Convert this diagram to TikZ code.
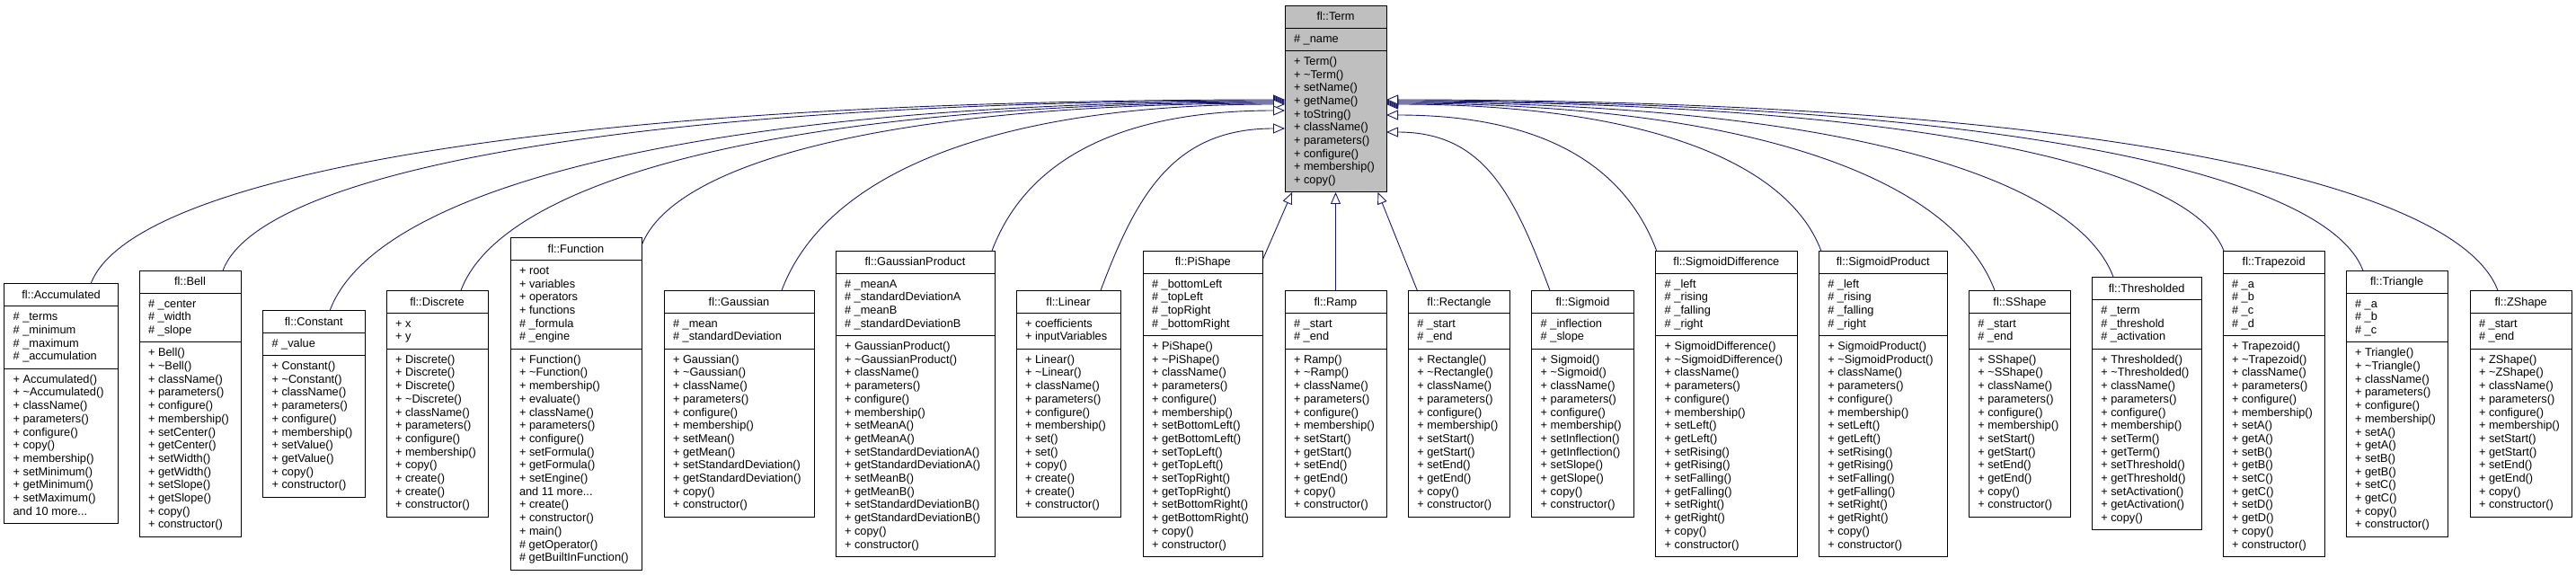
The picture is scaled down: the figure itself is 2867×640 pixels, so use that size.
\documentclass[tikz,border=0pt]{standalone}
\usepackage{fontspec}
\newfontfamily\dfont{Liberation Sans}
\usetikzlibrary{arrows.meta,calc}
\definecolor{edgeblue}{HTML}{191970}
\newcommand\tildech{\textasciitilde}
\newcommand\moredots{.{}.{}.}
\newcommand\umlclass[8]{%
  \foreach \memb [count=\idx] in {#7} {\xdef\nA{\idx}}%
  \foreach \memb [count=\idx] in {#8} {\xdef\nM{\idx}}%
  \pgfmathsetmacro\hAttr{14.7*\nA+10.6}%
  \pgfmathsetmacro\hMeth{14.7*\nM+10.6}%
  \pgfmathsetmacro\hBox{25+\hAttr+\hMeth}%
  \pgfmathsetmacro\yTop{#5-\hBox/2}%
  \pgfmathsetmacro\yAttr{\yTop+25}%
  \pgfmathsetmacro\yMeth{\yAttr+\hAttr}%
  \pgfmathsetmacro\wBox{#4-#3}%
  \node[classbox,#1,minimum width=\wBox pt,minimum height=\hBox pt,anchor=north west] (#2) at (#3,\yTop) {};
  \draw[classline] (#3,\yAttr) -- (#4,\yAttr) (#3,\yMeth) -- (#4,\yMeth);
  \node[ctitle] (#2-title) at ({(#3+#4)/2},\yTop+16.8) {#6};
  \foreach \memb [count=\idx] in {#7} {\node[member] (#2-a\idx) at (#3+10,\yAttr+16+14.7*\idx-14.7) {\memb};}%
  \foreach \memb [count=\idx] in {#8} {\node[member] (#2-m\idx) at (#3+10,\yMeth+16+14.7*\idx-14.7) {\memb};}%
}
\newcommand\inh[2]{%
  \draw[edge] let \p1=#1, \p2=#2,
    \n1={0.5*abs(\y2-\y1)},
    \n2={ifthenelse(\x2>\x1,1,-1)} in
    (\p1) .. controls (\x1+\n2*0.45*\n1, \y1+1.2*\n1) and (\x1+0.4*\x2-0.4*\x1, \y2) .. (\p2);}
\begin{document}
\begin{tikzpicture}[x=1pt,y=-1pt,
  classbox/.style={draw=black,line width=1pt,fill=white,inner sep=0pt,outer sep=0pt},
  classline/.style={draw=black,line width=1pt},
  member/.style={anchor=base west,inner sep=0pt,outer sep=0pt,font=\dfont\fontsize{12.8}{14.7}\selectfont},
  ctitle/.style={member,anchor=base},
  edge/.style={draw=edgeblue,line width=0.9pt,-{Triangle[length=13pt,width=11pt,fill=white]}}]
\fill[white] (0,0) rectangle (2867,640);
\useasboundingbox (0,0) rectangle (2867,640);

\umlclass{fill=black!25}{term}{1430}{1543}{110}{fl::Term}{\# \_name}{+ Term(), + \tildech Term(), + setName(), + getName(), + toString(), + className(), + parameters(), + configure(), + membership(), + copy()}

\umlclass{}{acc}{4.6}{131.5}{449.2}{fl::Accumulated}{\# \_terms, \# \_minimum, \# \_maximum, \# \_accumulation}{+ Accumulated(), + \tildech Accumulated(), + className(), + parameters(), + configure(), + copy(), + membership(), + setMinimum(), + getMinimum(), + setMaximum(), {and 10 more\moredots}}
\umlclass{}{bell}{155}{268}{449.2}{fl::Bell}{\# \_center, \# \_width, \# \_slope}{+ Bell(), + \tildech Bell(), + className(), + parameters(), + configure(), + membership(), + setCenter(), + getCenter(), + setWidth(), + getWidth(), + setSlope(), + getSlope(), + copy(), + constructor()}
\umlclass{}{const}{292.5}{406}{449.2}{fl::Constant}{\# \_value}{+ Constant(), + \tildech Constant(), + className(), + parameters(), + configure(), + membership(), + setValue(), + getValue(), + copy(), + constructor()}
\umlclass{}{discrete}{430}{543}{449.2}{fl::Discrete}{+ x, + y}{+ Discrete(), + Discrete(), + Discrete(), + \tildech Discrete(), + className(), + parameters(), + configure(), + membership(), + copy(), + create(), + create(), + constructor()}
\umlclass{}{function}{568}{714}{449.2}{fl::Function}{+ root, + variables, + operators, + functions, \# \_formula, \# \_engine}{+ Function(), + \tildech Function(), + membership(), + evaluate(), + className(), + parameters(), + configure(), + setFormula(), + getFormula(), + setEngine(), {and 11 more\moredots}, + create(), + constructor(), + main(), \# getOperator(), \# getBuiltInFunction()}
\umlclass{}{gaussian}{739}{906}{449.2}{fl::Gaussian}{\# \_mean, \# \_standardDeviation}{+ Gaussian(), + \tildech Gaussian(), + className(), + parameters(), + configure(), + membership(), + setMean(), + getMean(), + setStandardDeviation(), + getStandardDeviation(), + copy(), + constructor()}
\umlclass{}{gp}{930}{1107}{449.2}{fl::GaussianProduct}{\# \_meanA, \# \_standardDeviationA, \# \_meanB, \# \_standardDeviationB}{+ GaussianProduct(), + \tildech GaussianProduct(), + className(), + parameters(), + configure(), + membership(), + setMeanA(), + getMeanA(), + setStandardDeviationA(), + getStandardDeviationA(), + setMeanB(), + getMeanB(), + setStandardDeviationB(), + getStandardDeviationB(), + copy(), + constructor()}
\umlclass{}{linear}{1131}{1247}{449.2}{fl::Linear}{+ coefficients, + inputVariables}{+ Linear(), + \tildech Linear(), + className(), + parameters(), + configure(), + membership(), + set(), + set(), + copy(), + create(), + create(), + constructor()}
\umlclass{}{pishape}{1272}{1405.7}{449.2}{fl::PiShape}{\# \_bottomLeft, \# \_topLeft, \# \_topRight, \# \_bottomRight}{+ PiShape(), + \tildech PiShape(), + className(), + parameters(), + configure(), + membership(), + setBottomLeft(), + getBottomLeft(), + setTopLeft(), + getTopLeft(), + setTopRight(), + getTopRight(), + setBottomRight(), + getBottomRight(), + copy(), + constructor()}
\umlclass{}{ramp}{1430}{1543}{449.2}{fl::Ramp}{\# \_start, \# \_end}{+ Ramp(), + \tildech Ramp(), + className(), + parameters(), + configure(), + membership(), + setStart(), + getStart(), + setEnd(), + getEnd(), + copy(), + constructor()}
\umlclass{}{rect}{1567.3}{1680.7}{449.2}{fl::Rectangle}{\# \_start, \# \_end}{+ Rectangle(), + \tildech Rectangle(), + className(), + parameters(), + configure(), + membership(), + setStart(), + getStart(), + setEnd(), + getEnd(), + copy(), + constructor()}
\umlclass{}{sigmoid}{1704.7}{1818.3}{449.2}{fl::Sigmoid}{\# \_inflection, \# \_slope}{+ Sigmoid(), + \tildech Sigmoid(), + className(), + parameters(), + configure(), + membership(), + setInflection(), + getInflection(), + setSlope(), + getSlope(), + copy(), + constructor()}
\umlclass{}{sigdiff}{1842.7}{2000}{449.2}{fl::SigmoidDifference}{\# \_left, \# \_rising, \# \_falling, \# \_right}{+ SigmoidDifference(), + \tildech SigmoidDifference(), + className(), + parameters(), + configure(), + membership(), + setLeft(), + getLeft(), + setRising(), + getRising(), + setFalling(), + getFalling(), + setRight(), + getRight(), + copy(), + constructor()}
\umlclass{}{sigprod}{2024.3}{2167.3}{449.2}{fl::SigmoidProduct}{\# \_left, \# \_rising, \# \_falling, \# \_right}{+ SigmoidProduct(), + \tildech SigmoidProduct(), + className(), + parameters(), + configure(), + membership(), + setLeft(), + getLeft(), + setRising(), + getRising(), + setFalling(), + getFalling(), + setRight(), + getRight(), + copy(), + constructor()}
\umlclass{}{sshape}{2191.3}{2304.7}{449.2}{fl::SShape}{\# \_start, \# \_end}{+ SShape(), + \tildech SShape(), + className(), + parameters(), + configure(), + membership(), + setStart(), + getStart(), + setEnd(), + getEnd(), + copy(), + constructor()}
\umlclass{}{thresh}{2328.3}{2450}{449.2}{fl::Thresholded}{\# \_term, \# \_threshold, \# \_activation}{+ Thresholded(), + \tildech Thresholded(), + className(), + parameters(), + configure(), + membership(), + setTerm(), + getTerm(), + setThreshold(), + getThreshold(), + setActivation(), + getActivation(), + copy()}
\umlclass{}{trap}{2474}{2587.3}{449.2}{fl::Trapezoid}{\# \_a, \# \_b, \# \_c, \# \_d}{+ Trapezoid(), + \tildech Trapezoid(), + className(), + parameters(), + configure(), + membership(), + setA(), + getA(), + setB(), + getB(), + setC(), + getC(), + setD(), + getD(), + copy(), + constructor()}
\umlclass{}{tri}{2611}{2724.3}{449.2}{fl::Triangle}{\# \_a, \# \_b, \# \_c}{+ Triangle(), + \tildech Triangle(), + className(), + parameters(), + configure(), + membership(), + setA(), + getA(), + setB(), + getB(), + setC(), + getC(), + copy(), + constructor()}
\umlclass{}{zshape}{2749}{2862.3}{449.2}{fl::ZShape}{\# \_start, \# \_end}{+ ZShape(), + \tildech ZShape(), + className(), + parameters(), + configure(), + membership(), + setStart(), + getStart(), + setEnd(), + getEnd(), + copy(), + constructor()}

% left side inheritance edges
\inh{([xshift=33pt]acc.north)}{([yshift=-1pt]term.west)}
\inh{([xshift=36.5pt]bell.north)}{([yshift=-2pt]term.west)}
\inh{([xshift=18pt]const.north)}{([yshift=-3pt]term.west)}
\inh{([xshift=26.5pt]discrete.north)}{([yshift=-4pt]term.west)}
\inh{([yshift=-9pt]function.north east)}{([yshift=-5pt]term.west)}
\inh{([xshift=47.5pt]gaussian.north)}{([yshift=-6pt]term.west)}
\inh{([xshift=-3pt]gp.north east)}{([yshift=-13pt]term.west)}
\inh{([xshift=36pt]linear.north)}{([yshift=-33pt]term.west)}
% bottom edges
\draw[edge] ([yshift=-9pt]pishape.north east) -- ([xshift=-48.5pt]term.south);
\draw[edge] (ramp.north) -- (term.south);
\draw[edge] ([xshift=10pt]rect.north west) -- ([xshift=47pt]term.south);
% right side inheritance edges
\inh{([xshift=-36.5pt]sigmoid.north)}{([yshift=-37pt]term.east)}
\inh{([xshift=1pt]sigdiff.north west)}{([yshift=-18pt]term.east)}
\inh{([xshift=2.5pt]sigprod.north west)}{([yshift=-6pt]term.east)}
\inh{([xshift=-28pt]sshape.north)}{([yshift=-5pt]term.east)}
\inh{([xshift=-37pt]thresh.north)}{([yshift=-4pt]term.east)}
\inh{([xshift=1pt]trap.north west)}{([yshift=-3pt]term.east)}
\inh{([xshift=-37.7pt]tri.north)}{([yshift=-2pt]term.east)}
\inh{([xshift=-25.7pt]zshape.north)}{([yshift=-1pt]term.east)}
\end{tikzpicture}
\end{document}
